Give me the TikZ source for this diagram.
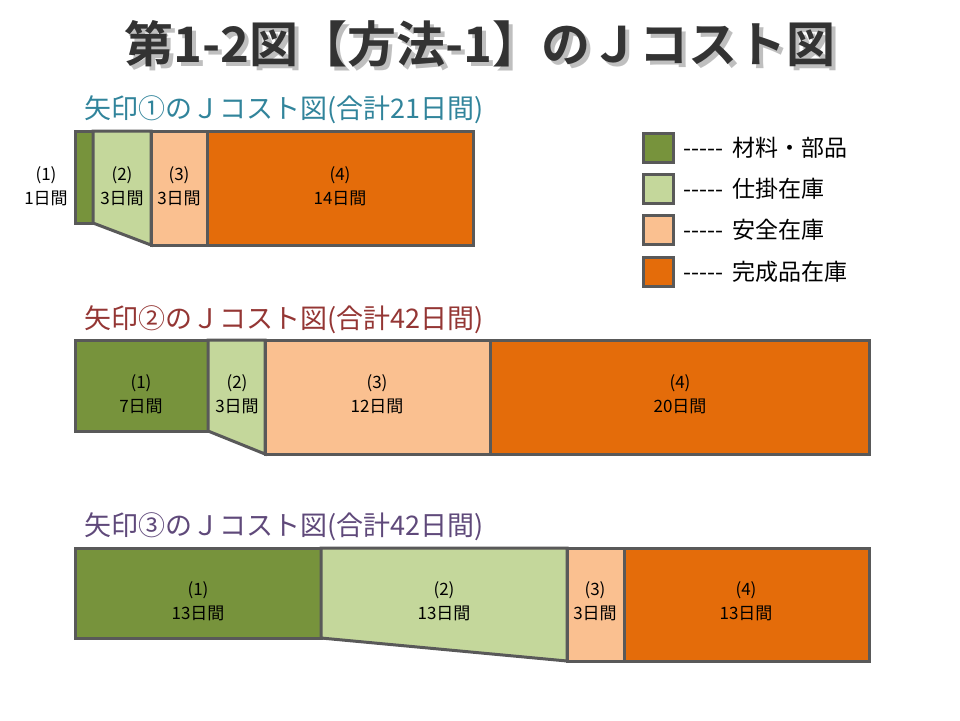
\documentclass[tikz,border=0pt]{standalone}
\usepackage{fontspec}
\newfontfamily\cjk{Noto Sans CJK JP}
\newfontfamily\cjkb{Noto Sans CJK JP Bold}
\definecolor{cA}{HTML}{77933C}
\definecolor{cB}{HTML}{C4D79B}
\definecolor{cC}{HTML}{FAC090}
\definecolor{cD}{HTML}{E46C0A}
\definecolor{bd}{HTML}{595959}
\definecolor{t1}{HTML}{31849B}
\definecolor{t2}{HTML}{943634}
\definecolor{t3}{HTML}{5F497A}
\tikzset{blk/.style={draw=bd,line width=3pt},
lab/.style={font=\cjk\fontsize{17}{24}\selectfont,align=center,inner sep=0pt},
sub/.style={font=\cjk\fontsize{27}{30}\selectfont,anchor=west,inner sep=0pt},
leg/.style={font=\cjk\fontsize{23}{26}\selectfont,anchor=west,inner sep=0pt}}
\begin{document}
\begin{tikzpicture}[x=1pt,y=-1pt]
\useasboundingbox (0,0) rectangle (960,720);
\node[font=\cjkb\fontsize{49}{54}\selectfont,text=gray!50] at (484,48) {第1-2図【方法-1】のＪコスト図};
\node[font=\cjkb\fontsize{49}{54}\selectfont,text=black!80] (title) at (480,44) {第1-2図【方法-1】のＪコスト図};
% chart 1
\node[sub,text=t1] (s1) at (84,110) {矢印①のＪコスト図(合計21日間)};
\draw[blk,fill=cA] (75,131) rectangle (93,223);
\draw[blk,fill=cB] (93,131) -- (151,131) -- (151,245) -- (93,223) -- cycle;
\draw[blk,fill=cC] (151,131) rectangle (207,245);
\draw[blk,fill=cD] (207,131) rectangle (473,245);
\node[lab] (a1) at (46,186) {(1)\\1日間};
\node[lab] (a2) at (122,186) {(2)\\3日間};
\node[lab] (a3) at (179,186) {(3)\\3日間};
\node[lab] (a4) at (340,186) {(4)\\14日間};
% chart 2
\node[sub,text=t2] (s2) at (84,320) {矢印②のＪコスト図(合計42日間)};
\draw[blk,fill=cA] (75,340) rectangle (208,431);
\draw[blk,fill=cB] (208,340) -- (265,340) -- (265,454) -- (208,431) -- cycle;
\draw[blk,fill=cC] (265,340) rectangle (490,454);
\draw[blk,fill=cD] (490,340) rectangle (869,454);
\node[lab] (b1) at (141,394) {(1)\\7日間};
\node[lab] (b2) at (237,394) {(2)\\3日間};
\node[lab] (b3) at (377,394) {(3)\\12日間};
\node[lab] (b4) at (680,394) {(4)\\20日間};
% chart 3
\node[sub,text=t3] (s3) at (84,527) {矢印③のＪコスト図(合計42日間)};
\draw[blk,fill=cA] (75,548) rectangle (321,638);
\draw[blk,fill=cB] (321,548) -- (567,548) -- (567,661) -- (321,638) -- cycle;
\draw[blk,fill=cC] (567,548) rectangle (624,661);
\draw[blk,fill=cD] (624,548) rectangle (869,661);
\node[lab] (c1) at (198,601) {(1)\\13日間};
\node[lab] (c2) at (444,601) {(2)\\13日間};
\node[lab] (c3) at (595,601) {(3)\\3日間};
\node[lab] (c4) at (746,601) {(4)\\13日間};
% legend
\draw[blk,fill=cA] (643,133) rectangle (673,162);
\draw[blk,fill=cB] (643,174) rectangle (673,203);
\draw[blk,fill=cC] (643,215) rectangle (673,244);
\draw[blk,fill=cD] (643,257) rectangle (673,286);
\node[leg] (l1) at (683,148) {-----\hspace{0.4em}材料・部品};
\node[leg] (l2) at (683,189) {-----\hspace{0.4em}仕掛在庫};
\node[leg] (l3) at (683,230) {-----\hspace{0.4em}安全在庫};
\node[leg] (l4) at (683,272) {-----\hspace{0.4em}完成品在庫};
\end{tikzpicture}
\end{document}
